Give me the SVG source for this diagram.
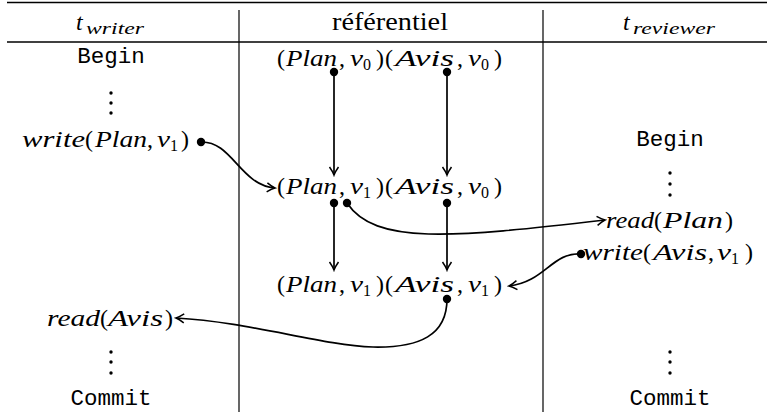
<svg xmlns="http://www.w3.org/2000/svg" width="767" height="412" viewBox="0 0 767 412">
<style>
.rule{stroke:#000;stroke-width:1.5;fill:none}
.vr{stroke:#000;stroke-width:1.2;fill:none}
.m{font-family:"Liberation Serif","Times New Roman",serif;font-size:24px;fill:#000}
.i{font-style:italic}
.s{font-size:16px;font-style:normal}
.hs{font-size:17px;font-style:italic}
.tt{font-family:"Liberation Mono","Courier New",monospace;font-size:22.5px;fill:#000;text-anchor:middle}
.rm{font-family:"Liberation Serif","Times New Roman",serif;font-size:25px;fill:#000;text-anchor:middle}
.c{stroke:#000;stroke-width:1.7;fill:none;marker-end:url(#ah)}
.d{fill:#000}
.el{fill:#000}
</style>
<defs>
<marker id="ah" markerUnits="userSpaceOnUse" viewBox="-10 -6 12 12" refX="0" refY="0" markerWidth="12" markerHeight="12" orient="auto">
<path d="M-8,-4.5 Q-3,-1 0,0 Q-3,1 -8,4.5" stroke="#000" stroke-width="1.5" fill="none"/>
</marker>
</defs>
<rect width="767" height="412" fill="#fff"/>
<g id="table">
<line class="rule" x1="7" y1="2.5" x2="767" y2="2.5"/>
<line class="rule" x1="7" y1="42" x2="767" y2="42"/>
<line class="vr" x1="239" y1="10" x2="239" y2="412"/>
<line class="vr" x1="543" y1="10" x2="543" y2="412"/>
</g>
<g id="header-writer"><text class="m" y="30"><tspan class="i" x="76">t</tspan><tspan class="hs" x="86" y="34" textLength="58" lengthAdjust="spacingAndGlyphs">writer</tspan></text></g>
<g id="header-ref"><text class="rm" x="390" y="30" textLength="116" lengthAdjust="spacingAndGlyphs">référentiel</text></g>
<g id="header-reviewer"><text class="m" y="30"><tspan class="i" x="623">t</tspan><tspan class="hs" x="633" y="34" textLength="82" lengthAdjust="spacingAndGlyphs">reviewer</tspan></text></g>

<g id="w-begin"><text class="tt" x="111" y="63">Begin</text></g>
<g id="w-dots1"><circle class="el" cx="111" cy="93" r="1.7"/><circle class="el" cx="111" cy="103" r="1.7"/><circle class="el" cx="111" cy="113" r="1.7"/></g>
<g id="w-write"><text class="m" y="147"><tspan class="i" x="22" textLength="63" lengthAdjust="spacingAndGlyphs">write</tspan><tspan x="85">(</tspan><tspan class="i" x="95" textLength="52" lengthAdjust="spacingAndGlyphs">Plan</tspan><tspan x="147">,</tspan><tspan class="i" x="157" textLength="13" lengthAdjust="spacingAndGlyphs">v</tspan><tspan class="s" x="170" y="151">1</tspan><tspan x="181" y="147">)</tspan></text></g>
<g id="w-read"><text class="m" y="326"><tspan class="i" x="47" textLength="53" lengthAdjust="spacingAndGlyphs">read</tspan><tspan x="100">(</tspan><tspan class="i" x="108" textLength="55" lengthAdjust="spacingAndGlyphs">Avis</tspan><tspan x="165">)</tspan></text></g>
<g id="w-dots2"><circle class="el" cx="111" cy="352" r="1.7"/><circle class="el" cx="111" cy="362" r="1.7"/><circle class="el" cx="111" cy="373" r="1.7"/></g>
<g id="w-commit"><text class="tt" x="111" y="405">Commit</text></g>

<g id="ref-1"><text class="m" y="66"><tspan x="277">(</tspan><tspan class="i" x="286" textLength="51" lengthAdjust="spacingAndGlyphs">Plan</tspan><tspan x="339">,</tspan><tspan class="i" x="350" textLength="13" lengthAdjust="spacingAndGlyphs">v</tspan><tspan class="s" x="363" y="70">0</tspan><tspan x="376" y="66">)</tspan><tspan x="385">(</tspan><tspan class="i" x="395" textLength="59" lengthAdjust="spacingAndGlyphs">Avis</tspan><tspan x="457">,</tspan><tspan class="i" x="468" textLength="13" lengthAdjust="spacingAndGlyphs">v</tspan><tspan class="s" x="481" y="70">0</tspan><tspan x="494" y="66">)</tspan></text></g>
<g id="ref-2"><text class="m" y="194"><tspan x="277">(</tspan><tspan class="i" x="286" textLength="51" lengthAdjust="spacingAndGlyphs">Plan</tspan><tspan x="339">,</tspan><tspan class="i" x="350" textLength="13" lengthAdjust="spacingAndGlyphs">v</tspan><tspan class="s" x="363" y="198">1</tspan><tspan x="376" y="194">)</tspan><tspan x="385">(</tspan><tspan class="i" x="395" textLength="59" lengthAdjust="spacingAndGlyphs">Avis</tspan><tspan x="457">,</tspan><tspan class="i" x="468" textLength="13" lengthAdjust="spacingAndGlyphs">v</tspan><tspan class="s" x="481" y="198">0</tspan><tspan x="494" y="194">)</tspan></text></g>
<g id="ref-3"><text class="m" y="292"><tspan x="277">(</tspan><tspan class="i" x="286" textLength="51" lengthAdjust="spacingAndGlyphs">Plan</tspan><tspan x="339">,</tspan><tspan class="i" x="350" textLength="13" lengthAdjust="spacingAndGlyphs">v</tspan><tspan class="s" x="363" y="296">1</tspan><tspan x="376" y="292">)</tspan><tspan x="385">(</tspan><tspan class="i" x="395" textLength="59" lengthAdjust="spacingAndGlyphs">Avis</tspan><tspan x="457">,</tspan><tspan class="i" x="468" textLength="13" lengthAdjust="spacingAndGlyphs">v</tspan><tspan class="s" x="481" y="296">1</tspan><tspan x="494" y="292">)</tspan></text></g>

<g id="r-begin"><text class="tt" x="670" y="146">Begin</text></g>
<g id="r-dots1"><circle class="el" cx="670" cy="173" r="1.7"/><circle class="el" cx="670" cy="184" r="1.7"/><circle class="el" cx="670" cy="195" r="1.7"/></g>
<g id="r-read"><text class="m" y="228"><tspan class="i" x="606" textLength="48" lengthAdjust="spacingAndGlyphs">read</tspan><tspan x="654">(</tspan><tspan class="i" x="663" textLength="60" lengthAdjust="spacingAndGlyphs">Plan</tspan><tspan x="725">)</tspan></text></g>
<g id="r-write"><text class="m" y="260"><tspan class="i" x="583" textLength="60" lengthAdjust="spacingAndGlyphs">write</tspan><tspan x="643">(</tspan><tspan class="i" x="653" textLength="54" lengthAdjust="spacingAndGlyphs">Avis</tspan><tspan x="708">,</tspan><tspan class="i" x="717" textLength="14" lengthAdjust="spacingAndGlyphs">v</tspan><tspan class="s" x="731" y="264">1</tspan><tspan x="745" y="260">)</tspan></text></g>
<g id="r-dots2"><circle class="el" cx="670" cy="352" r="1.7"/><circle class="el" cx="670" cy="362" r="1.7"/><circle class="el" cx="670" cy="373" r="1.7"/></g>
<g id="r-commit"><text class="tt" x="670" y="405">Commit</text></g>

<g id="connectors">
<path class="c" d="M334,72 V175"/>
<path class="c" d="M447,72 V175"/>
<path class="c" d="M334,203 V270"/>
<path class="c" d="M447,203 V270"/>
<path class="c" d="M201,142 C232,141 240,185 275,188"/>
<path class="c" d="M347,203 C375,245 450,238 605,220"/>
<path class="c" d="M581,254 C552,252 545,282 509,286"/>
<path class="c" d="M447,299 C447,335 420,348 373,347 C320,345 250,322 176,318"/>
<circle class="d" cx="334" cy="72" r="4.2"/>
<circle class="d" cx="447" cy="72" r="4.2"/>
<circle class="d" cx="334" cy="203" r="4.2"/>
<circle class="d" cx="347" cy="203" r="4.2"/>
<circle class="d" cx="447" cy="203" r="4.2"/>
<circle class="d" cx="447" cy="299" r="4.2"/>
<circle class="d" cx="201" cy="142" r="4.2"/>
<circle class="d" cx="581" cy="254" r="4.2"/>
</g>
</svg>
